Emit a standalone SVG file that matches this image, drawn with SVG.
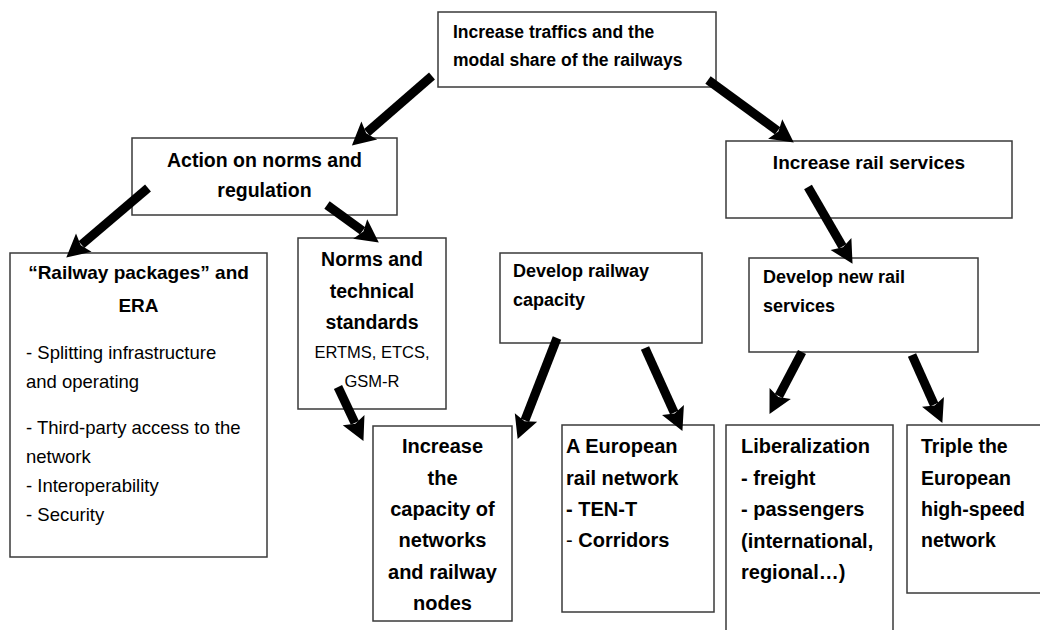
<svg xmlns="http://www.w3.org/2000/svg" width="1040" height="630" viewBox="0 0 1040 630">
  <defs>
    <marker id="head" markerUnits="userSpaceOnUse" viewBox="0 -12 24 24" markerWidth="24" markerHeight="24" refX="3" refY="0" orient="auto" overflow="visible">
      <path d="M0,-12 L23,0 L0,12 L4,0 Z" fill="#000"/>
    </marker>
    <style>
      .box { fill: #fff; stroke: #3a3a3a; stroke-width: 1.5; }
      .t { font-family: "Liberation Sans", Arial, sans-serif; fill: #000; }
      .b { font-weight: bold; }
      .c { text-anchor: middle; }
      .arrow { stroke: #000; stroke-width: 9; fill: none; marker-end: url(#head); }
    </style>
  </defs>
  <rect width="1040" height="630" fill="#fff"/>

  <g id="n-top">
    <rect class="box" x="438" y="12" width="278" height="75"/>
    <text class="t b" font-size="17.5" x="453" y="37.5">Increase traffics and the</text>
    <text class="t b" font-size="17.5" x="453" y="65.5">modal share of the railways</text>
  </g>

  <g id="n-action">
    <rect class="box" x="132" y="138" width="265" height="77"/>
    <text class="t b c" font-size="19.5" x="264.5" y="167">Action on norms and</text>
    <text class="t b c" font-size="19.5" x="264.5" y="197">regulation</text>
  </g>

  <g id="n-services">
    <rect class="box" x="726" y="141" width="286" height="77"/>
    <text class="t b c" font-size="19" x="869" y="169">Increase rail services</text>
  </g>

  <g id="n-packages">
    <rect class="box" x="10" y="253" width="257" height="304"/>
    <text class="t b c" font-size="19" x="138.5" y="279">“Railway packages” and</text>
    <text class="t b c" font-size="19" x="138.5" y="312">ERA</text>
    <text class="t" font-size="18.5" x="26" y="359">- Splitting infrastructure</text>
    <text class="t" font-size="18.5" x="26" y="388">and operating</text>
    <text class="t" font-size="18.5" x="26" y="434">- Third-party access to the</text>
    <text class="t" font-size="18.5" x="26" y="463">network</text>
    <text class="t" font-size="18.5" x="26" y="492">- Interoperability</text>
    <text class="t" font-size="18.5" x="26" y="521">- Security</text>
  </g>

  <g id="n-norms">
    <rect class="box" x="298" y="238" width="148" height="171"/>
    <text class="t b c" font-size="19.5" x="372" y="266">Norms and</text>
    <text class="t b c" font-size="19.5" x="372" y="298">technical</text>
    <text class="t b c" font-size="19.5" x="372" y="329">standards</text>
    <text class="t c" font-size="16.5" x="372" y="358">ERTMS, ETCS,</text>
    <text class="t c" font-size="16.5" x="372" y="387">GSM-R</text>
  </g>

  <g id="n-capacity-dev">
    <rect class="box" x="500" y="253" width="202" height="90"/>
    <text class="t b" font-size="18" x="513" y="277">Develop railway</text>
    <text class="t b" font-size="18" x="513" y="306">capacity</text>
  </g>

  <g id="n-newservices">
    <rect class="box" x="749" y="258" width="229" height="94"/>
    <text class="t b" font-size="18" x="763" y="283">Develop new rail</text>
    <text class="t b" font-size="18" x="763" y="312">services</text>
  </g>

  <g id="n-capacity">
    <rect class="box" x="373" y="426" width="139" height="195"/>
    <text class="t b c" font-size="20" x="442.5" y="453">Increase</text>
    <text class="t b c" font-size="20" x="442.5" y="484.5">the</text>
    <text class="t b c" font-size="20" x="442.5" y="516">capacity of</text>
    <text class="t b c" font-size="20" x="442.5" y="547">networks</text>
    <text class="t b c" font-size="20" x="442.5" y="578.5">and railway</text>
    <text class="t b c" font-size="20" x="442.5" y="609.5">nodes</text>
  </g>

  <g id="n-european">
    <rect class="box" x="562" y="425" width="152" height="187"/>
    <text class="t b" font-size="20" x="566" y="453">A European</text>
    <text class="t b" font-size="20" x="566" y="484.5">rail network</text>
    <text class="t b" font-size="20" x="566" y="516">- TEN-T</text>
    <text class="t b" font-size="20" x="566" y="547"><tspan font-weight="normal">-</tspan> Corridors</text>
  </g>

  <g id="n-liberalization">
    <rect class="box" x="726" y="425" width="167" height="220"/>
    <text class="t b" font-size="20" x="741" y="453">Liberalization</text>
    <text class="t b" font-size="20" x="741" y="485">- freight</text>
    <text class="t b" font-size="20" x="741" y="516">- passengers</text>
    <text class="t b" font-size="20" x="741" y="547.5">(international,</text>
    <text class="t b" font-size="20" x="741" y="579">regional…)</text>
  </g>

  <g id="n-highspeed">
    <rect class="box" x="907" y="425" width="150" height="168"/>
    <text class="t b" font-size="19.5" x="921" y="453">Triple the</text>
    <text class="t b" font-size="19.5" x="921" y="485">European</text>
    <text class="t b" font-size="19.5" x="921" y="516">high-speed</text>
    <text class="t b" font-size="19.5" x="921" y="547">network</text>
  </g>

  <g id="connectors">
    <line class="arrow" x1="432" y1="76" x2="367" y2="132.5"/>
    <line class="arrow" x1="708" y1="80" x2="777.6" y2="130.8"/>
    <line class="arrow" x1="148" y1="188" x2="81.5" y2="244.6"/>
    <line class="arrow" x1="327" y1="205" x2="362.6" y2="230.8"/>
    <line class="arrow" x1="808" y1="187" x2="842.5" y2="246.5"/>
    <line class="arrow" x1="557" y1="338" x2="524.9" y2="420.3"/>
    <line class="arrow" x1="645" y1="348" x2="674.2" y2="412.7"/>
    <line class="arrow" x1="338" y1="387" x2="354.9" y2="422.8"/>
    <line class="arrow" x1="802" y1="352" x2="778.8" y2="396.2"/>
    <line class="arrow" x1="912" y1="355" x2="934.2" y2="404.7"/>
  </g>
</svg>
